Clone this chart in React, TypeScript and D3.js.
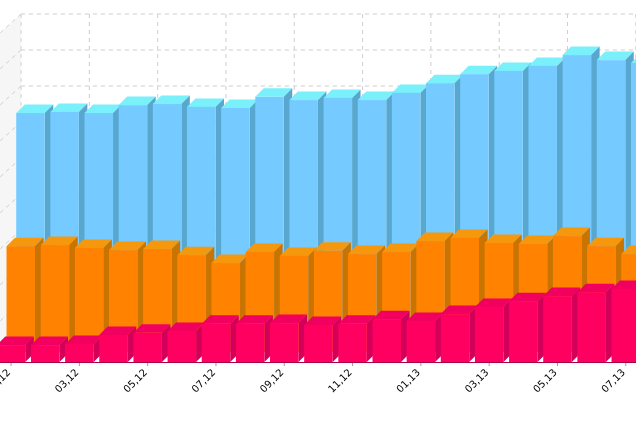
import React from "react";
import * as d3 from "d3";

const categories = ["01,12","02,12","03,12","04,12","05,12","06,12","07,12","08,12","09,12","10,12","11,12","12,12","01,13","02,13","03,13","04,13","05,13","06,13","07,13"];
const pinkValues = [4.7,4.7,5,7.5,8.1,8.6,10.6,10.6,10.8,10.3,10.6,11.9,11.4,13.3,15.3,16.9,18.3,19.4,20.3];
const orangeValues = [29.4,29.7,28.9,28.3,28.6,26.9,24.7,27.8,26.7,28.1,27.2,27.8,30.8,31.7,30.3,30,32.2,29.4,27.2];
const blueValues = [63.6,63.9,63.6,65.8,66.1,65.3,65,68.1,67.2,67.8,67.2,69.2,71.9,74.4,75.3,76.7,79.7,78.3,77.5];
const gridValues = [0,10,20,30,40,50,60,70,80,90];

const W = 636, H = 424;
const x = d3.scaleBand<string>().domain(categories).range([-6, -6 + 19 * 34.15]);
const y = d3.scaleLinear().domain([0, 100]).range([362, 2]);
const barW = 28.5, depth = 8.5;
const backDx = 10, backDy = 24;
const wallX = 21, wallDx = 21, wallDy = 19;

const series = [
  { values: blueValues, shift: 19.4, rise: 20, front: "#75CBFF", side: "#58A7CF", top: "#79F0FA" },
  { values: orangeValues, shift: 9.7, rise: 10, front: "#FF8300", side: "#C97300", top: "#F5980F" },
  { values: pinkValues, shift: 0, rise: 0, front: "#FF0061", side: "#D20058", top: "#F2005F" },
];
const pts = (a: number[][]) => a.map((p) => p.join(",")).join(" ");
const center = (c: string) => (x(c) as number) + x.bandwidth() / 2;

export default function App() {
  const gy = (v: number) => y(v) - backDy;
  const dash = { stroke: "#cfcfcf", strokeWidth: 1, strokeDasharray: "4 4", fill: "none" };
  return (
    <svg width={W} height={H} viewBox={`0 0 ${W} ${H}`} style={{ position: "absolute", left: 0, top: 0, display: "block", background: "#fff" }}>
      <defs>
        <filter id="soft" x="-2%" y="-2%" width="104%" height="104%">
          <feGaussianBlur stdDeviation="0.5" />
        </filter>
      </defs>
      <g filter="url(#soft)">
        <polygon points={pts([[wallX, gy(90)], [wallX, gy(0)], [wallX - wallDx, gy(0) + wallDy], [wallX - wallDx, gy(90) + wallDy]])} fill="#f6f6f6" />
        {gridValues.map((v) => (
          <g key={v}>
            <line x1={wallX} x2={W} y1={gy(v)} y2={gy(v)} {...dash} />
            <line x1={wallX} x2={wallX - wallDx} y1={gy(v)} y2={gy(v) + wallDy} {...dash} />
          </g>
        ))}
        {categories.filter((_, i) => i % 2 === 0).map((c) => (
          <line key={c} x1={center(c) + backDx} x2={center(c) + backDx} y1={gy(90)} y2={gy(0)} {...dash} />
        ))}
        {series.map((s, si) => (
          <g key={si}>
            {s.values.map((v, i) => {
              const x0 = center(categories[i]) - barW / 2 + s.shift;
              const x1 = x0 + barW;
              const b = y(0) - s.rise;
              const t = y(v) - s.rise;
              return (
                <g key={i}>
                  <polygon points={pts([[x0, t], [x0 + depth, t - depth], [x1 + depth, t - depth], [x1, t]])} fill={s.top} />
                  <polygon points={pts([[x1, t], [x1 + depth, t - depth], [x1 + depth, b - depth], [x1, b]])} fill={s.side} />
                  <rect x={x0} y={t} width={barW} height={b - t} fill={s.front} />
                </g>
              );
            })}
          </g>
        ))}
        <line x1={0} x2={W} y1={y(0) + 0.5} y2={y(0) + 0.5} stroke="#a80048" strokeWidth={1} />
        {categories.map((c, i) =>
          i % 2 === 0 ? (
            <g key={c} transform={`translate(${center(c)},${y(0)})`}>
              <line y1={1} y2={4} stroke="#999" />
              <text transform="translate(0,11) rotate(-45)" textAnchor="end" fontFamily="DejaVu Sans" fontSize={10} fill="#000">{c}</text>
            </g>
          ) : null
        )}
      </g>
    </svg>
  );
}
